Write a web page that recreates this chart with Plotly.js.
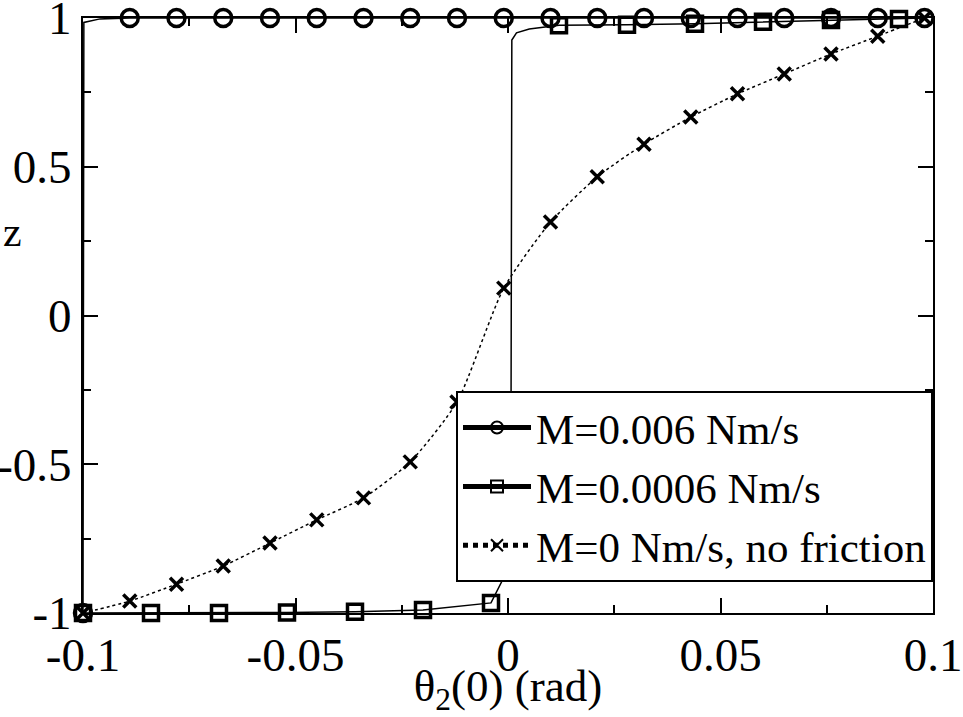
<!DOCTYPE html>
<html>
<head>
<meta charset="utf-8">
<script src="https://cdn.plot.ly/plotly-3.0.1.min.js"></script>
<style>
  body { margin: 0; background: #fff; }
  #plot { width: 963px; height: 717px; }
</style>
</head>
<body>
<div id="plot"></div>
<script>
// M=0.006 Nm/s : jumps straight up to z=1 right at the left edge
var circX = [-0.1, -0.0998, -0.096, -0.089, -0.078, -0.067, -0.056, -0.045, -0.034, -0.023, -0.012, -0.001, 0.01, 0.021, 0.032, 0.043, 0.054, 0.065, 0.076, 0.087, 0.098];
var circY = [-1, 0.985, 0.997, 1, 1, 1, 1, 1, 1, 1, 1, 1, 1, 1, 1, 1, 1, 1, 1, 1, 1];
var circMarkX = [-0.1, -0.089, -0.078, -0.067, -0.056, -0.045, -0.034, -0.023, -0.012, -0.001, 0.01, 0.021, 0.032, 0.043, 0.054, 0.065, 0.076, 0.087, 0.098];

// M=0.0006 Nm/s : flat at -1, switches near theta=0
var sqX = [-0.1, -0.084, -0.068, -0.052, -0.036, -0.02, -0.004, -0.0015, 0.0007, 0.0009, 0.002, 0.005, 0.012, 0.028, 0.044, 0.06, 0.076, 0.092, 0.098];
var sqY = [-1, -1, -1, -0.998, -0.996, -0.99, -0.966, -0.895, -0.4, 0.926, 0.95, 0.963, 0.976, 0.977, 0.981, 0.987, 0.993, 0.997, 1];
var sqMarkX = [-0.1, -0.084, -0.068, -0.052, -0.036, -0.02, -0.004, 0.012, 0.028, 0.044, 0.06, 0.076, 0.092];

// M=0 Nm/s, no friction
var noFricX = [-0.1, -0.089, -0.078, -0.067, -0.056, -0.045, -0.034, -0.023, -0.012, -0.001, 0.01, 0.021, 0.032, 0.043, 0.054, 0.065, 0.076, 0.087, 0.098];
var noFricY = [-1, -0.96, -0.903, -0.842, -0.765, -0.687, -0.613, -0.492, -0.291, 0.092, 0.314, 0.466, 0.576, 0.667, 0.745, 0.812, 0.879, 0.939, 1];

var seriesNames = ["M=0.006 Nm/s", "M=0.0006 Nm/s", "M=0 Nm/s, no friction"];

var xTicks = [-0.1, -0.05, 0, 0.05, 0.1];
var xTickText = ["-0.1", "-0.05", "0", "0.05", "0.1"];
var yTicks = [-1, -0.5, 0, 0.5, 1];
var yTickText = ["-1", "-0.5", "0", "0.5", "1"];

var serif = "Liberation Serif";

// markers only on the sampled points, line through all of them
function markSizes(xs, marked, size) {
  return xs.map(x => marked.indexOf(x) >= 0 ? size : 0);
}

var traceCirc = {
  x: circX, y: circY,
  name: seriesNames[0],
  mode: "lines+markers",
  cliponaxis: false,
  line: { color: "black", width: 1.5 },
  marker: { symbol: "circle-open", size: markSizes(circX, circMarkX, 17), opacity: 1, color: "black", line: { color: "black", width: 3.5 } }
};

var traceSq = {
  x: sqX, y: sqY,
  name: seriesNames[1],
  mode: "lines+markers",
  cliponaxis: false,
  line: { color: "black", width: 1.5 },
  marker: { symbol: "square-open", size: markSizes(sqX, sqMarkX, 15), opacity: 1, color: "black", line: { color: "black", width: 3.5 } }
};

var traceNoFric = {
  x: noFricX, y: noFricY,
  name: seriesNames[2],
  mode: "lines+markers",
  cliponaxis: false,
  line: { color: "black", width: 1.5, dash: "dot", shape: "spline", smoothing: 0.6 },
  marker: { symbol: "x-thin-open", size: 13, opacity: 1, color: "black", line: { color: "black", width: 3.5 } }
};

var data = [traceCirc, traceSq, traceNoFric];

var axisCommon = {
  showline: true, linecolor: "black", linewidth: 2,
  mirror: "ticks",
  ticks: "inside", ticklen: 15, tickwidth: 2, tickcolor: "black",
  showgrid: false, zeroline: false,
  ticklabeloverflow: "allow",
  tickfont: { family: serif, size: 47, color: "black" }
};

var layout = {
  width: 963, height: 717,
  margin: { l: 83, r: 30, t: 18, b: 104 },
  paper_bgcolor: "white", plot_bgcolor: "white",
  showlegend: true,
  xaxis: Object.assign({}, axisCommon, {
    range: [-0.1, 0.1],
    tickmode: "array", tickvals: xTicks, ticktext: xTickText,
    minor: { tick0: -0.1, dtick: 0.025, ticks: "inside", ticklen: 8, tickwidth: 2, tickcolor: "black", showgrid: false },
    title: { text: "θ<sub>2</sub>(0) (rad)", font: { family: serif, size: 45, color: "black" }, standoff: 0 }
  }),
  yaxis: Object.assign({}, axisCommon, {
    range: [-1, 1],
    tickmode: "array", tickvals: yTicks, ticktext: yTickText,
    minor: { tick0: -1, dtick: 0.25, ticks: "inside", ticklen: 8, tickwidth: 2, tickcolor: "black", showgrid: false }
  }),
  annotations: [{
    text: "z", xref: "paper", yref: "paper",
    x: -0.083, y: 0.64, xanchor: "center", yanchor: "middle",
    showarrow: false,
    font: { family: serif, size: 42, color: "black" }
  }],
  legend: {
    x: 1, xanchor: "right", y: 0.052, yanchor: "bottom",
    bgcolor: "white", bordercolor: "black", borderwidth: 2,
    font: { family: serif, size: 43, color: "black" },
    itemwidth: 68, itemsizing: "constant", tracegroupgap: 0
  }
};

Plotly.newPlot("plot", data, layout, { displayModeBar: false, staticPlot: true });
</script>
</body>
</html>
